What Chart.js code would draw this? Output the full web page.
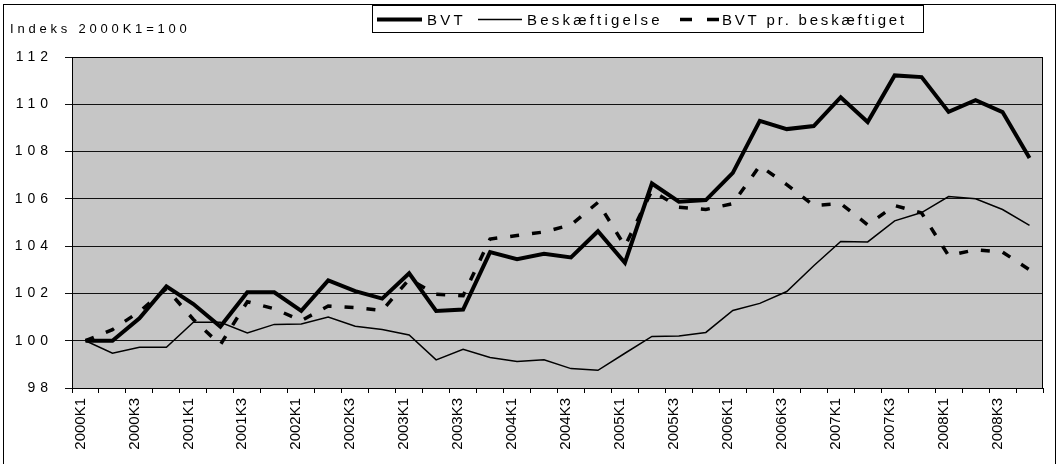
<!DOCTYPE html>
<html lang="da">
<head>
<meta charset="UTF-8">
<title>BVT og beskæftigelse</title>
<script src="https://cdn.jsdelivr.net/npm/chart.js"></script>
<style>
  body { margin: 0; background: #fff; }
  #wrap { width: 1058px; height: 464px; }
</style>
</head>
<body>
<div id="wrap"><canvas id="chart" width="1058" height="464"></canvas></div>
<script>
// Kvartaler 2000K1 - 2008K4
var quarters = [
  '2000K1','2000K2','2000K3','2000K4','2001K1','2001K2','2001K3','2001K4',
  '2002K1','2002K2','2002K3','2002K4','2003K1','2003K2','2003K3','2003K4',
  '2004K1','2004K2','2004K3','2004K4','2005K1','2005K2','2005K3','2005K4',
  '2006K1','2006K2','2006K3','2006K4','2007K1','2007K2','2007K3','2007K4',
  '2008K1','2008K2','2008K3','2008K4'
];

// Indeks 2000K1=100
var bvt = [
  100, 100, 100.95, 102.3, 101.55, 100.6, 102.05, 102.05,
  101.26, 102.55, 102.1, 101.78, 102.85, 101.26, 101.32, 103.75,
  103.45, 103.68, 103.52, 104.63, 103.3, 106.65, 105.88, 105.95,
  107.1, 109.3, 108.95, 109.08, 110.3, 109.25, 111.22, 111.15,
  109.68, 110.17, 109.67, 107.73
];
var beskaeftigelse = [
  100, 99.47, 99.72, 99.72, 100.78, 100.78, 100.33, 100.69,
  100.71, 101.0, 100.61, 100.47, 100.24, 99.19, 99.64, 99.29,
  99.12, 99.19, 98.82, 98.75, 99.47, 100.18, 100.2, 100.35,
  101.28, 101.58, 102.08, 103.17, 104.2, 104.18, 105.07, 105.42,
  106.1, 106.0, 105.55, 104.88
];
var bvtPrBeskaeftiget = [
  100, 100.47, 101.23, 102.2, 100.9, 99.83, 101.65, 101.35,
  100.85, 101.47, 101.4, 101.28, 102.6, 101.97, 101.9, 104.3,
  104.45, 104.6, 104.9, 105.85, 104.0, 106.35, 105.65, 105.55,
  105.8, 107.4, 106.6, 105.72, 105.8, 104.9, 105.72, 105.4,
  103.6, 103.85, 103.75, 103.0
];
var yTicks = [98, 100, 102, 104, 106, 108, 110, 112];
var titleText = 'Indeks 2000K1=100';
var seriesNames = ['BVT', 'Beskæftigelse', 'BVT pr. beskæftiget'];

var fontFamily = '"Liberation Sans", Arial, sans-serif';

// baggrund, ramme, titel, y-tal og forklaring
var decorations = {
  id: 'decorations',
  beforeDraw: function(chart) {
    var ctx = chart.ctx, a = chart.chartArea;
    ctx.save();
    ctx.fillStyle = '#c6c6c6';
    ctx.fillRect(a.left, a.top, a.right - a.left, a.bottom - a.top);
    ctx.restore();
  },
  afterDraw: function(chart) {
    var ctx = chart.ctx, a = chart.chartArea;
    ctx.save();
    // ramme om plotområdet
    ctx.strokeStyle = '#000';
    ctx.lineWidth = 1;
    ctx.strokeRect(a.left + 0.5, a.top + 0.5, a.right - a.left - 1, a.bottom - a.top);
    // ydre ramme
    ctx.strokeRect(3.5, 4.5, 1052, 470);

    ctx.fillStyle = '#000';
    ctx.textBaseline = 'alphabetic';
    ctx.textAlign = 'left';
    // titel
    ctx.font = '13px ' + fontFamily;
    ctx.letterSpacing = '3.8px';
    ctx.fillText(titleText, 10, 33);

    // y-aksens tal
    var y = chart.scales.y;
    ctx.font = '14px ' + fontFamily;
    ctx.letterSpacing = '5px';
    ctx.textAlign = 'right';
    ctx.textBaseline = 'middle';
    yTicks.forEach(function(v) {
      ctx.fillText(String(v), 53, y.getPixelForValue(v));
    });

    // forklaring
    ctx.letterSpacing = '0px';
    ctx.fillStyle = '#fff';
    ctx.fillRect(372, 5, 551, 27);
    ctx.strokeStyle = '#000';
    ctx.lineWidth = 1;
    ctx.strokeRect(372.5, 5.5, 551, 27);

    var ly = 19.5;
    ctx.lineCap = 'butt';
    ctx.lineWidth = 4;
    ctx.beginPath(); ctx.moveTo(377, ly); ctx.lineTo(422, ly); ctx.stroke();
    ctx.lineWidth = 1.5;
    ctx.beginPath(); ctx.moveTo(478, ly); ctx.lineTo(522, ly); ctx.stroke();
    ctx.lineWidth = 3.5;
    ctx.setLineDash([12, 15]);
    ctx.beginPath(); ctx.moveTo(680, ly); ctx.lineTo(720, ly); ctx.stroke();
    ctx.setLineDash([]);

    ctx.fillStyle = '#000';
    ctx.textAlign = 'left';
    ctx.textBaseline = 'alphabetic';
    ctx.font = '15px ' + fontFamily;
    ctx.letterSpacing = '3.2px';
    ctx.fillText(seriesNames[0], 427, 25);
    ctx.fillText(seriesNames[1], 527, 25);
    ctx.letterSpacing = '2.8px';
    ctx.fillText(seriesNames[2], 722, 25);
    ctx.restore();
  }
};

var ctx = document.getElementById('chart').getContext('2d');
var chart = new Chart(ctx, {
  type: 'line',
  data: {
    labels: quarters,
    datasets: [
      {
        label: seriesNames[0],
        data: bvt,
        borderColor: '#000',
        borderWidth: 4,
        pointRadius: 0,
        tension: 0,
        fill: false
      },
      {
        label: seriesNames[1],
        data: beskaeftigelse,
        borderColor: '#000',
        borderWidth: 1.5,
        pointRadius: 0,
        tension: 0,
        fill: false
      },
      {
        label: seriesNames[2],
        data: bvtPrBeskaeftiget,
        borderColor: '#000',
        borderWidth: 3.5,
        borderDash: [9, 13],
        pointRadius: 0,
        tension: 0,
        fill: false
      }
    ]
  },
  options: {
    responsive: false,
    animation: false,
    layout: { padding: { left: 0, top: 57, right: 15, bottom: 0 } },
    plugins: {
      legend: { display: false },
      tooltip: { enabled: false }
    },
    scales: {
      x: {
        offset: true,
        grid: { offset: true, drawOnChartArea: false, drawTicks: true, tickLength: 5, color: '#000' },
        border: { color: '#000', width: 1 },
        ticks: {
          autoSkip: false,
          maxRotation: 90,
          minRotation: 90,
          padding: 5,
          labelOffset: -5,
          color: '#000',
          font: { family: fontFamily, size: 15 },
          callback: function(v, i) { return i % 2 === 0 ? quarters[i] : ''; }
        },
        afterFit: function(s) { s.height = 76; }
      },
      y: {
        min: 98,
        max: 112,
        grid: { color: '#111', lineWidth: 1, drawTicks: true, tickLength: 7 },
        border: { color: '#000', width: 1 },
        ticks: { stepSize: 2, color: 'rgba(0,0,0,0)', font: { family: fontFamily, size: 14 } },
        afterFit: function(s) { s.width = 72; }
      }
    }
  },
  plugins: [decorations]
});
</script>
</body>
</html>
